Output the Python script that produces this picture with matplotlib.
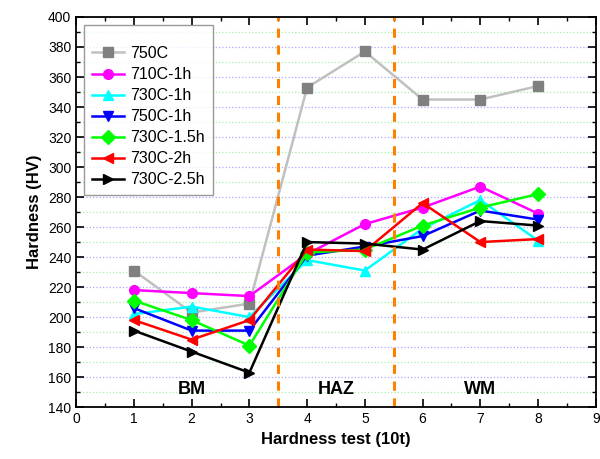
import matplotlib
matplotlib.use("Agg")
import matplotlib.pyplot as plt
from matplotlib.ticker import MultipleLocator

plt.rcParams['font.family'] = ['Liberation Sans', 'DejaVu Sans']

x = [1, 2, 3, 4, 5, 6, 7, 8]
hv_750c = [231, 203, 209, 353, 377, 345, 345, 354]
hv_710c_1h = [218, 216, 214, 242, 262, 273, 287, 269]
hv_730c_1h = [202, 207, 200, 238, 231, 259, 278, 251]
hv_750c_1h = [206, 191, 191, 241, 247, 254, 271, 265]
hv_730c_15h = [211, 198, 181, 243, 245, 261, 273, 282]
hv_730c_2h = [198, 185, 198, 245, 244, 276, 250, 252]
hv_730c_25h = [191, 177, 163, 250, 249, 245, 264, 261]

series = [
    ("750C", hv_750c, "#c0c0c0", "#808080", "s"),
    ("710C-1h", hv_710c_1h, "#ff00ff", "#ff00ff", "o"),
    ("730C-1h", hv_730c_1h, "#00ffff", "#00ffff", "^"),
    ("750C-1h", hv_750c_1h, "#0000ff", "#0000ff", "v"),
    ("730C-1.5h", hv_730c_15h, "#00ff00", "#00ff00", "D"),
    ("730C-2h", hv_730c_2h, "#ff0000", "#ff0000", "<"),
    ("730C-2.5h", hv_730c_25h, "#000000", "#000000", ">"),
]

fig = plt.figure(figsize=(6, 4.59), dpi=100)
ax = fig.add_axes([0.127, 0.113, 0.866, 0.85])

ax.set_xlim(0, 9)
ax.set_ylim(140, 400)
ax.xaxis.set_major_locator(MultipleLocator(1))
ax.xaxis.set_minor_locator(MultipleLocator(0.5))
ax.yaxis.set_major_locator(MultipleLocator(20))
ax.yaxis.set_minor_locator(MultipleLocator(10))

# dotted grid: blue on majors, green on minors
ax.grid(True, which='major', axis='y', color='#a8a8ff', linestyle=':', linewidth=0.9)
ax.grid(True, which='minor', axis='y', color='#a8f0a8', linestyle=':', linewidth=0.9)
ax.set_axisbelow(True)

for label, vals, lc, mc, mk in series:
    ax.plot(x, vals, color=lc, marker=mk, markerfacecolor=mc, markeredgecolor=mc,
            markersize=7, linewidth=1.8, label=label)

ax.axvline(3.5, color='#ff8000', linestyle=(0, (3, 2.5)), linewidth=2.2)
ax.axvline(5.5, color='#ff8000', linestyle=(0, (3, 2.5)), linewidth=2.2)

ax.text(2, 152, "BM", ha='center', va='center', fontsize=13, fontweight='bold')
ax.text(4.5, 152, "HAZ", ha='center', va='center', fontsize=13, fontweight='bold')
ax.text(7, 152, "WM", ha='center', va='center', fontsize=13, fontweight='bold')

ax.tick_params(which='both', direction='in', top=True, right=True, labelsize=10)
ax.tick_params(which='major', length=6, width=1.2)
ax.tick_params(which='minor', length=3, width=1.0)
for sp in ax.spines.values():
    sp.set_linewidth(1.3)

ax.set_xlabel("Hardness test (10t)", fontsize=12, fontweight='bold')
ax.set_ylabel("Hardness (HV)", fontsize=12, fontweight='bold')

leg = ax.legend(loc='upper left', fontsize=11.5, fancybox=False, edgecolor='#808080',
                handlelength=2.0, handletextpad=0.4, borderpad=0.5, labelspacing=0.38,
                title=" ", title_fontsize=6, bbox_to_anchor=(0.0, 1.0))
leg.get_frame().set_linewidth(1.0)

fig.savefig("out.png", dpi=100)
